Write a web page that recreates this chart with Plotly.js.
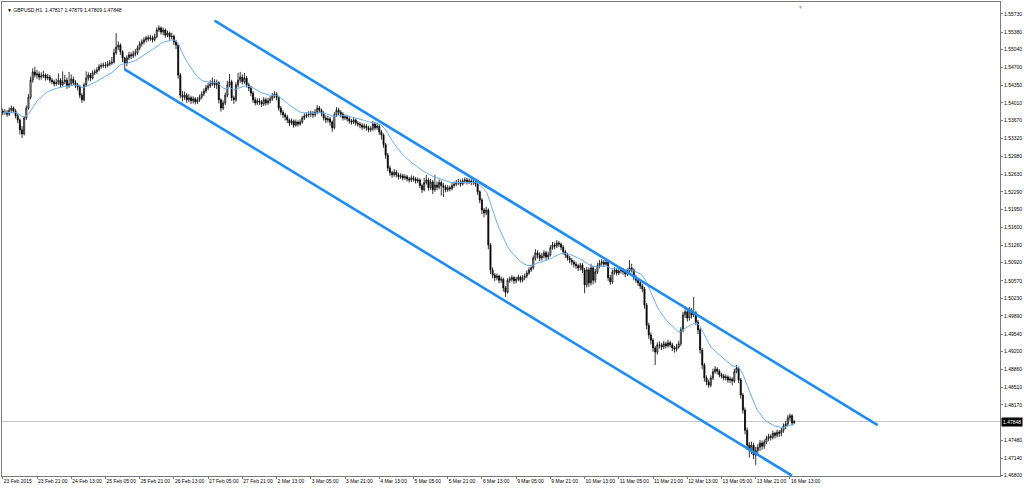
<!DOCTYPE html>
<html>
<head>
<meta charset="utf-8">
<script src="https://cdn.plot.ly/plotly-3.0.1.min.js"></script>
<style>
  html, body { margin: 0; padding: 0; background: #ffffff; }
  #chart { width: 1024px; height: 488px; }
</style>
</head>
<body>
<div id="chart"></div>
<script>
// ---- data (GBPUSD H1, one value per hourly bar, bar numbers counted from 23 Feb 2015 00:00, weekdays only) ----
const symbolTitle = 'GBPUSD,H1';
const lastBarOHLC = ['1.47817', '1.47879', '1.47809', '1.47848'];
const firstBar = 5;
const firstOpen = 1.5385;

const closes = [
  1.5382,1.5383,1.5379,1.5387,1.5391,1.5385,1.5376,1.5368,1.5349,1.5341,
  1.5372,1.5391,1.5412,1.5445,1.5461,1.5455,1.5457,1.5451,1.5453,1.5455,
  1.5449,1.5451,1.5445,1.5442,1.5438,1.5440,1.5445,1.5436,1.5442,1.5445,
  1.5434,1.5438,1.5447,1.5440,1.5436,1.5432,1.5416,1.5407,1.5436,1.5449,
  1.5455,1.5449,1.5459,1.5461,1.5465,1.5471,1.5473,1.5474,1.5473,1.5476,
  1.5478,1.5480,1.5498,1.5509,1.5513,1.5500,1.5488,1.5478,1.5488,1.5494,
  1.5492,1.5496,1.5498,1.5507,1.5515,1.5519,1.5523,1.5527,1.5525,1.5527,
  1.5523,1.5529,1.5542,1.5546,1.5538,1.5542,1.5532,1.5536,1.5529,1.5530,
  1.5519,1.5513,1.5455,1.5416,1.5412,1.5416,1.5407,1.5411,1.5405,1.5409,
  1.5403,1.5407,1.5412,1.5418,1.5424,1.5430,1.5434,1.5438,1.5442,1.5436,
  1.5440,1.5407,1.5391,1.5401,1.5416,1.5436,1.5442,1.5411,1.5407,1.5436,
  1.5445,1.5451,1.5442,1.5449,1.5436,1.5430,1.5420,1.5407,1.5401,1.5405,
  1.5403,1.5399,1.5407,1.5401,1.5405,1.5409,1.5414,1.5418,1.5412,1.5391,
  1.5383,1.5378,1.5374,1.5368,1.5362,1.5366,1.5358,1.5364,1.5360,1.5364,
  1.5372,1.5376,1.5378,1.5379,1.5381,1.5378,1.5383,1.5391,1.5387,1.5381,
  1.5372,1.5368,1.5370,1.5364,1.5353,1.5378,1.5387,1.5383,1.5379,1.5372,
  1.5374,1.5370,1.5366,1.5364,1.5368,1.5362,1.5360,1.5358,1.5354,1.5356,
  1.5353,1.5349,1.5351,1.5360,1.5353,1.5356,1.5345,1.5339,1.5320,1.5300,
  1.5275,1.5266,1.5262,1.5267,1.5262,1.5258,1.5260,1.5256,1.5258,1.5254,
  1.5252,1.5256,1.5254,1.5250,1.5252,1.5241,1.5233,1.5247,1.5252,1.5237,
  1.5248,1.5233,1.5242,1.5238,1.5247,1.5241,1.5238,1.5233,1.5237,1.5235,
  1.5241,1.5244,1.5247,1.5248,1.5244,1.5250,1.5252,1.5248,1.5250,1.5247,
  1.5248,1.5244,1.5229,1.5213,1.5194,1.5188,1.5194,1.5126,1.5078,1.5068,
  1.5063,1.5066,1.5058,1.5060,1.5043,1.5035,1.5058,1.5060,1.5063,1.5057,
  1.5060,1.5064,1.5058,1.5063,1.5066,1.5072,1.5078,1.5082,1.5101,1.5111,
  1.5107,1.5101,1.5105,1.5111,1.5103,1.5107,1.5121,1.5126,1.5124,1.5130,
  1.5128,1.5122,1.5113,1.5107,1.5101,1.5097,1.5093,1.5089,1.5086,1.5082,
  1.5087,1.5078,1.5049,1.5078,1.5053,1.5082,1.5058,1.5074,1.5086,1.5091,
  1.5093,1.5089,1.5093,1.5063,1.5055,1.5074,1.5078,1.5072,1.5076,1.5078,
  1.5074,1.5070,1.5076,1.5082,1.5078,1.5063,1.5058,1.5053,1.5047,1.5041,
  1.5010,1.4971,1.4952,1.4942,1.4927,1.4919,1.4933,1.4933,1.4929,1.4935,
  1.4931,1.4937,1.4933,1.4927,1.4925,1.4929,1.4935,1.4962,1.4991,1.4997,
  1.4985,1.5000,1.4991,1.4995,1.4977,1.4962,1.4923,1.4894,1.4869,1.4861,
  1.4855,1.4869,1.4881,1.4886,1.4882,1.4875,1.4873,1.4869,1.4871,1.4865,
  1.4867,1.4863,1.4881,1.4888,1.4865,1.4836,1.4807,1.4768,1.4739,1.4729,
  1.4739,1.4720,1.4729,1.4735,1.4743,1.4737,1.4745,1.4752,1.4756,1.4754,
  1.4762,1.4758,1.4764,1.4762,1.4768,1.4776,1.4780,1.4792,1.4796,1.47817,
  1.47848
];

const highs = [
  1.5390,1.5389,1.5387,1.5392,1.5396,1.5394,1.5389,1.5380,1.5371,1.5356,
  1.5376,1.5396,1.5418,1.5452,1.5468,1.5471,1.5465,1.5462,1.5460,1.5463,
  1.5458,1.5457,1.5455,1.5449,1.5446,1.5448,1.5458,1.5449,1.5462,1.5455,
  1.5450,1.5461,1.5456,1.5452,1.5445,1.5440,1.5436,1.5420,1.5440,1.5462,
  1.5460,1.5459,1.5464,1.5466,1.5470,1.5476,1.5478,1.5479,1.5480,1.5482,
  1.5484,1.5490,1.5506,1.5536,1.5520,1.5516,1.5503,1.5490,1.5493,1.5500,
  1.5499,1.5502,1.5505,1.5512,1.5520,1.5524,1.5528,1.5531,1.5532,1.5533,
  1.5531,1.5535,1.5547,1.5551,1.5549,1.5547,1.5545,1.5541,1.5539,1.5537,
  1.5533,1.5523,1.5516,1.5459,1.5424,1.5423,1.5420,1.5418,1.5415,1.5414,
  1.5412,1.5412,1.5417,1.5423,1.5429,1.5436,1.5440,1.5445,1.5450,1.5447,
  1.5446,1.5443,1.5410,1.5406,1.5421,1.5444,1.5457,1.5446,1.5415,1.5441,
  1.5459,1.5461,1.5456,1.5459,1.5453,1.5440,1.5434,1.5424,1.5412,1.5410,
  1.5410,1.5407,1.5412,1.5411,1.5411,1.5414,1.5420,1.5424,1.5422,1.5415,
  1.5395,1.5387,1.5382,1.5378,1.5371,1.5371,1.5369,1.5369,1.5367,1.5369,
  1.5376,1.5381,1.5383,1.5385,1.5386,1.5385,1.5389,1.5397,1.5395,1.5390,
  1.5385,1.5377,1.5376,1.5374,1.5367,1.5383,1.5393,1.5392,1.5387,1.5383,
  1.5379,1.5378,1.5374,1.5370,1.5373,1.5371,1.5366,1.5364,1.5362,1.5361,
  1.5360,1.5357,1.5356,1.5366,1.5364,1.5363,1.5360,1.5349,1.5342,1.5324,
  1.5304,1.5280,1.5270,1.5273,1.5271,1.5266,1.5265,1.5264,1.5263,1.5262,
  1.5258,1.5261,1.5260,1.5258,1.5257,1.5255,1.5245,1.5256,1.5262,1.5256,
  1.5254,1.5252,1.5262,1.5249,1.5253,1.5251,1.5246,1.5243,1.5242,1.5241,
  1.5246,1.5249,1.5252,1.5254,1.5253,1.5255,1.5257,1.5256,1.5255,1.5254,
  1.5253,1.5252,1.5247,1.5232,1.5217,1.5198,1.5200,1.5197,1.5130,1.5083,
  1.5072,1.5071,1.5069,1.5065,1.5063,1.5047,1.5062,1.5065,1.5068,1.5066,
  1.5065,1.5069,1.5067,1.5068,1.5071,1.5077,1.5083,1.5088,1.5106,1.5118,
  1.5116,1.5112,1.5111,1.5116,1.5115,1.5113,1.5126,1.5132,1.5131,1.5136,
  1.5134,1.5131,1.5126,1.5117,1.5111,1.5105,1.5101,1.5097,1.5094,1.5090,
  1.5092,1.5091,1.5082,1.5084,1.5083,1.5090,1.5086,1.5080,1.5092,1.5097,
  1.5099,1.5097,1.5099,1.5096,1.5068,1.5079,1.5083,1.5082,1.5081,1.5083,
  1.5082,1.5078,1.5081,1.5097,1.5090,1.5081,1.5068,1.5062,1.5057,1.5051,
  1.5045,1.5014,1.4976,1.4957,1.4946,1.4931,1.4938,1.4940,1.4937,1.4941,
  1.4939,1.4943,1.4941,1.4937,1.4931,1.4935,1.4941,1.4967,1.4997,1.5008,
  1.5003,1.5006,1.5004,1.5026,1.4999,1.4981,1.4966,1.4927,1.4898,1.4874,
  1.4866,1.4874,1.4887,1.4892,1.4890,1.4886,1.4879,1.4877,1.4876,1.4874,
  1.4872,1.4870,1.4887,1.4894,1.4891,1.4869,1.4840,1.4812,1.4773,1.4745,
  1.4746,1.4744,1.4736,1.4741,1.4749,1.4748,1.4750,1.4757,1.4761,1.4760,
  1.4767,1.4765,1.4769,1.4768,1.4773,1.4781,1.4786,1.4797,1.4800,1.4799,
  1.47879
];

const lows = [
  1.5377,1.5378,1.5374,1.5376,1.5384,1.5381,1.5371,1.5362,1.5340,1.5333,
  1.5338,1.5368,1.5388,1.5408,1.5440,1.5450,1.5448,1.5445,1.5446,1.5449,
  1.5444,1.5445,1.5440,1.5437,1.5433,1.5434,1.5436,1.5430,1.5433,1.5437,
  1.5428,1.5430,1.5434,1.5435,1.5430,1.5425,1.5410,1.5401,1.5404,1.5432,
  1.5444,1.5443,1.5446,1.5455,1.5457,1.5462,1.5467,1.5469,1.5468,1.5470,
  1.5472,1.5474,1.5477,1.5494,1.5503,1.5494,1.5480,1.5465,1.5472,1.5484,
  1.5486,1.5488,1.5491,1.5494,1.5503,1.5510,1.5514,1.5518,1.5520,1.5521,
  1.5518,1.5520,1.5526,1.5538,1.5533,1.5532,1.5527,1.5528,1.5523,1.5524,
  1.5513,1.5505,1.5448,1.5410,1.5404,1.5407,1.5401,1.5403,1.5399,1.5400,
  1.5398,1.5399,1.5403,1.5408,1.5414,1.5420,1.5426,1.5430,1.5434,1.5430,
  1.5428,1.5400,1.5384,1.5387,1.5397,1.5412,1.5432,1.5405,1.5399,1.5403,
  1.5431,1.5440,1.5437,1.5438,1.5431,1.5424,1.5414,1.5401,1.5396,1.5397,
  1.5397,1.5393,1.5395,1.5396,1.5397,1.5400,1.5405,1.5410,1.5406,1.5386,
  1.5377,1.5372,1.5367,1.5362,1.5356,1.5358,1.5353,1.5355,1.5355,1.5357,
  1.5361,1.5368,1.5372,1.5373,1.5374,1.5372,1.5374,1.5379,1.5381,1.5375,
  1.5367,1.5362,1.5363,1.5357,1.5345,1.5350,1.5374,1.5377,1.5373,1.5367,
  1.5368,1.5365,1.5361,1.5359,1.5360,1.5357,1.5355,1.5352,1.5349,1.5350,
  1.5347,1.5344,1.5345,1.5347,1.5348,1.5349,1.5339,1.5330,1.5314,1.5293,
  1.5269,1.5260,1.5256,1.5258,1.5257,1.5253,1.5254,1.5251,1.5252,1.5249,
  1.5247,1.5248,1.5249,1.5245,1.5246,1.5236,1.5227,1.5230,1.5243,1.5231,
  1.5233,1.5225,1.5229,1.5232,1.5234,1.5222,1.5219,1.5228,1.5229,1.5230,
  1.5232,1.5237,1.5240,1.5242,1.5239,1.5241,1.5245,1.5243,1.5244,1.5242,
  1.5242,1.5239,1.5223,1.5207,1.5186,1.5180,1.5184,1.5118,1.5070,1.5062,
  1.5056,1.5058,1.5052,1.5053,1.5036,1.5026,1.5032,1.5053,1.5055,1.5051,
  1.5052,1.5056,1.5053,1.5054,1.5058,1.5062,1.5068,1.5074,1.5079,1.5096,
  1.5100,1.5095,1.5096,1.5100,1.5097,1.5099,1.5104,1.5117,1.5118,1.5120,
  1.5122,1.5116,1.5108,1.5101,1.5096,1.5091,1.5087,1.5083,1.5080,1.5076,
  1.5077,1.5072,1.5033,1.5044,1.5045,1.5048,1.5050,1.5053,1.5070,1.5081,
  1.5086,1.5083,1.5085,1.5057,1.5049,1.5051,1.5069,1.5067,1.5068,1.5071,
  1.5069,1.5064,1.5066,1.5072,1.5073,1.5058,1.5053,1.5047,1.5041,1.5035,
  1.5003,1.4963,1.4945,1.4934,1.4920,1.4894,1.4914,1.4926,1.4923,1.4925,
  1.4926,1.4928,1.4928,1.4921,1.4918,1.4920,1.4926,1.4931,1.4958,1.4985,
  1.4978,1.4980,1.4984,1.4987,1.4971,1.4954,1.4916,1.4886,1.4862,1.4855,
  1.4850,1.4851,1.4865,1.4877,1.4876,1.4870,1.4868,1.4864,1.4864,1.4860,
  1.4859,1.4855,1.4859,1.4878,1.4859,1.4829,1.4800,1.4760,1.4730,1.4715,
  1.4722,1.4712,1.4701,1.4722,1.4728,1.4730,1.4732,1.4741,1.4747,1.4748,
  1.4750,1.4752,1.4754,1.4755,1.4756,1.4763,1.4770,1.4776,1.4786,1.4777,
  1.47809
];

// moving average on the chart: exponential, 20 periods
const maPeriod = 20;

// channel trend lines: anchor bar numbers and prices
const upperChannelBars   = [104, 414];
const upperChannelPrices = [1.5560, 1.4778];
const lowerChannelBars   = [62, 374];
const lowerChannelPrices = [1.5466, 1.4680];

// axis ticks
const timeTickBars   = [5, 21, 37, 53, 69, 85, 101, 117, 133, 149, 165, 181, 197, 213, 229, 245, 261, 277, 293, 309, 325, 341, 357, 373];
const timeTickLabels = ['23 Feb 2015', '23 Feb 21:00', '24 Feb 13:00', '25 Feb 05:00', '25 Feb 21:00', '26 Feb 13:00',
  '27 Feb 05:00', '27 Feb 21:00', '2 Mar 13:00', '3 Mar 05:00', '3 Mar 21:00', '4 Mar 13:00', '5 Mar 05:00',
  '5 Mar 21:00', '6 Mar 13:00', '9 Mar 05:00', '9 Mar 21:00', '10 Mar 13:00', '11 Mar 05:00', '11 Mar 21:00',
  '12 Mar 13:00', '13 Mar 05:00', '13 Mar 21:00', '16 Mar 13:00'];
const priceTicks = [1.55730, 1.55380, 1.55040, 1.54700, 1.54350, 1.54010, 1.53670, 1.53320, 1.52980, 1.52630,
  1.52290, 1.51950, 1.51600, 1.51260, 1.50920, 1.50570, 1.50230, 1.49890, 1.49540, 1.49200, 1.48860,
  1.48510, 1.48170, 1.47480, 1.47140, 1.46800];
const currentPrice = 1.47848;
const shiftMarkerBar = 378;

// ---- build traces ----
const bars = closes.map((_, i) => firstBar + i);
const opens = closes.map((c, i) => (i === 0 ? firstOpen : closes[i - 1]));
const ma = [];
{
  const k = 2 / (maPeriod + 1);
  closes.forEach((c, i) => { ma.push(i === 0 ? c : ma[i - 1] + k * (c - ma[i - 1])); });
}

const FONT = 'Liberation Sans, Arial, sans-serif';
const FS = 5;

const traces = [
  {
    type: 'candlestick', x: bars, open: opens, high: highs, low: lows, close: closes,
    increasing: { line: { color: '#000000', width: 0.8 }, fillcolor: '#ffffff' },
    decreasing: { line: { color: '#000000', width: 0.8 }, fillcolor: '#000000' },
    whiskerwidth: 0, hoverinfo: 'skip', showlegend: false
  },
  {
    type: 'scatter', mode: 'lines', x: bars, y: ma,
    line: { color: '#6aaef5', width: 1 }, hoverinfo: 'skip', showlegend: false
  },
  {
    type: 'scatter', mode: 'lines', x: upperChannelBars, y: upperChannelPrices,
    line: { color: '#1e8cf0', width: 2.6 }, hoverinfo: 'skip', showlegend: false
  },
  {
    type: 'scatter', mode: 'lines', x: lowerChannelBars, y: lowerChannelPrices,
    line: { color: '#1e8cf0', width: 2.6 }, hoverinfo: 'skip', showlegend: false
  }
];

const layout = {
  width: 1024, height: 488,
  margin: { l: 2, r: 24, t: 2, b: 12, pad: 0 },
  paper_bgcolor: '#ffffff', plot_bgcolor: '#ffffff',
  showlegend: false,
  font: { family: FONT, size: FS, color: '#000000' },
  xaxis: {
    range: [4.64, 471.2], showgrid: false, zeroline: false,
    rangeslider: { visible: false },
    showline: true, linecolor: '#7a7a7a', linewidth: 1, mirror: true,
    ticks: 'outside', ticklen: 2, tickcolor: '#7a7a7a', tickwidth: 1,
    tickmode: 'array', tickvals: timeTickBars, ticktext: timeTickLabels,
    tickangle: 0, ticklabelposition: 'outside right',
    tickfont: { family: FONT, size: FS, color: '#000000' }, fixedrange: true
  },
  yaxis: {
    side: 'right', range: [1.46794, 1.55962], showgrid: false, zeroline: false,
    showline: true, linecolor: '#7a7a7a', linewidth: 1, mirror: true,
    ticks: 'outside', ticklen: 2, tickcolor: '#7a7a7a', tickwidth: 1,
    tickmode: 'array', tickvals: priceTicks, ticktext: priceTicks.map(v => v.toFixed(5)),
    tickfont: { family: FONT, size: FS, color: '#000000' }, fixedrange: true
  },
  shapes: [
    { type: 'line', xref: 'paper', x0: 0, x1: 1, yref: 'y', y0: currentPrice, y1: currentPrice,
      line: { color: '#c8c8c8', width: 1 }, layer: 'below' }
  ],
  annotations: [
    { xref: 'paper', x: 0, xanchor: 'left', xshift: 3, yref: 'paper', y: 1, yanchor: 'top', yshift: -3,
      text: '▼ ' + symbolTitle + '  ' + lastBarOHLC.join(' '), showarrow: false,
      font: { family: FONT, size: FS, color: '#000000' } },
    { xref: 'paper', x: 1, xanchor: 'left', xshift: 1, yref: 'y', y: currentPrice, yanchor: 'middle',
      text: currentPrice.toFixed(5), showarrow: false, bgcolor: '#000000', borderpad: 1,
      font: { family: FONT, size: FS, color: '#ffffff' } },
    { xref: 'x', x: shiftMarkerBar, xanchor: 'center', yref: 'paper', y: 1, yanchor: 'top',
      text: '▼', showarrow: false, font: { family: FONT, size: 5, color: '#a0a0a0' } }
  ]
};

Plotly.newPlot('chart', traces, layout, { displayModeBar: false, staticPlot: true });
</script>
</body>
</html>
